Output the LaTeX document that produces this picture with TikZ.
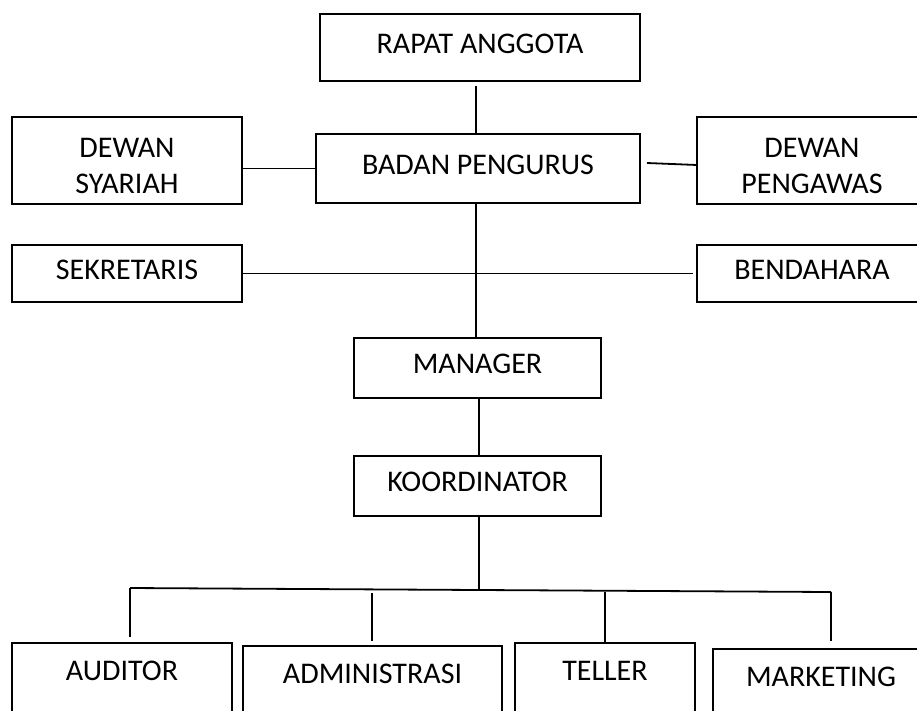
\documentclass[tikz,border=0pt]{standalone}
\usepackage{fontspec}
\setmainfont{Carlito}
\begin{document}
\begin{tikzpicture}[x=1pt,y=-1pt,
  box/.style={draw, line width=1.8pt, inner sep=0pt, align=center, font=\fontsize{30}{36}\selectfont},
  single/.style={box, text depth=8pt},
  double/.style={box, text height=66pt, text depth=0pt},
  link/.style={line width=1.8pt},
  bottombox/.style={box, text height=38pt, text depth=110pt, anchor=north}]
\useasboundingbox (0,0) rectangle (917,710);
\clip (0,0) rectangle (917,710);
% top part
\node[single, minimum width=320pt, minimum height=67pt] (rapat) at (480,47.5) {RAPAT ANGGOTA};
\node[single, minimum width=324pt, minimum height=69pt] (badan) at (478,168.5) {BADAN PENGURUS};
\node[double, minimum width=230pt, minimum height=87pt] (syariah) at (127,160.5) {DEWAN\\SYARIAH};
\node[double, minimum width=230pt, minimum height=87pt] (pengawas) at (812,160.5) {DEWAN\\PENGAWAS};
\node[single, minimum width=230pt, minimum height=57pt] (sekretaris) at (127,273.5) {SEKRETARIS};
\node[single, minimum width=230pt, minimum height=57pt] (bendahara) at (812,273.5) {BENDAHARA};
\node[single, minimum width=247pt, minimum height=60pt] (manager) at (477.5,368) {MANAGER};
\node[single, minimum width=247pt, minimum height=60pt] (koord) at (477.5,486) {KOORDINATOR};
% bottom boxes
\node[bottombox, minimum width=220pt] (auditor) at (122,642) {AUDITOR};
\node[bottombox, minimum width=259pt] (admin) at (372.5,645) {ADMINISTRASI};
\node[bottombox, minimum width=180pt] (teller) at (605,642) {TELLER};
\node[bottombox, minimum width=216pt] (marketing) at (821,648) {MARKETING};
% helper coordinates
\coordinate (spine) at (476,0);
\coordinate (spineb) at (479,0);
\coordinate (pgstart) at (647,163);
\coordinate (pgend) at (697,165);
\coordinate (busL) at (130,588);
\coordinate (busR) at (831,592);
\coordinate (busA) at (372,593);
\coordinate (busT) at (605,592);
\coordinate (busK) at (479,590);
% connectors
\draw[link] (rapat.south -| spine) ++(0,4) -- (badan.north -| spine);
\draw[link] (badan.west) -- (badan.west -| syariah.east);
\draw[link] (pgstart) -- (pgend);
\draw[link] (badan.south -| spine) -- (manager.north -| spine);
\draw[link] (sekretaris.east) -- ([xshift=-3pt]bendahara.west);
\draw[link] (manager.south -| spineb) -- (koord.north -| spineb);
\draw[link] (koord.south -| spineb) -- (busK);
\draw[link] (busL) -- (busR);
\draw[link] (busL) -- ([yshift=5pt]auditor.north -| busL);
\draw[link] (busA) -- ([yshift=4pt]admin.north -| busA);
\draw[link] (busT) -- (teller.north -| busT);
\draw[link] (busR) -- ([yshift=7pt]marketing.north -| busR);
\end{tikzpicture}
\end{document}
